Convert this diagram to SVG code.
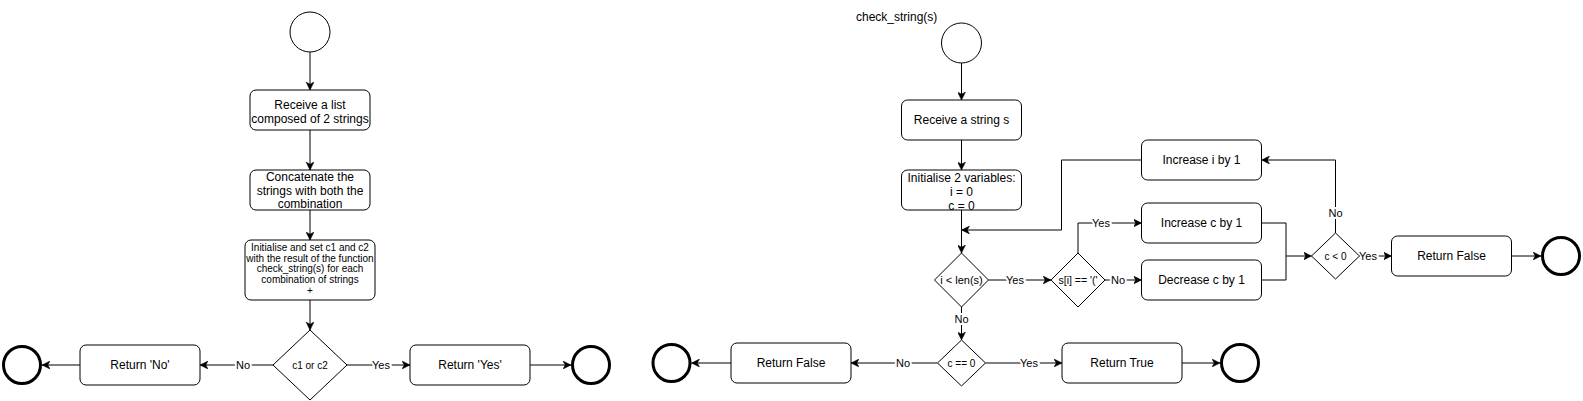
<svg xmlns="http://www.w3.org/2000/svg" width="1583" height="401" viewBox="0 0 1583 401">
<defs>
<style>
.box{fill:#fff;stroke:#000;stroke-width:1}
.st{fill:#fff;stroke:#000;stroke-width:1}
.en{fill:#fff;stroke:#000;stroke-width:3}
.t{font-family:"Liberation Sans",Arial,sans-serif;font-size:12px;fill:#000;text-anchor:middle}
.ts{font-family:"Liberation Sans",Arial,sans-serif;font-size:10px;fill:#000;text-anchor:middle}
.td{font-family:"Liberation Sans",Arial,sans-serif;font-size:11px;fill:#000;text-anchor:middle}
.lb{font-family:"Liberation Sans",Arial,sans-serif;font-size:11px;fill:#000;text-anchor:middle;stroke:#fff;stroke-width:4;paint-order:stroke}
.c{fill:none;stroke:#000;stroke-width:1;marker-end:url(#ah)}
.cn{fill:none;stroke:#000;stroke-width:1}
</style>
<marker id="ah" markerUnits="userSpaceOnUse" markerWidth="9" markerHeight="8" refX="8" refY="4" orient="auto">
<path d="M0,0 L8,4 L0,8 L2.2,4 Z" fill="#000" stroke="#000" stroke-width="0.5"/>
</marker>
</defs>

<g id="connectors">
<path class="c" d="M310,52 V90"/>
<path class="c" d="M310,130 V170"/>
<path class="c" d="M310,210 V240"/>
<path class="c" d="M310,300 V330"/>
<path class="c" d="M273,365 H200"/>
<path class="c" d="M347,365 H410"/>
<path class="c" d="M80,365 H42"/>
<path class="c" d="M530,365 H571"/>

<path class="c" d="M961.5,63 V100"/>
<path class="c" d="M961.5,140 V170"/>
<path class="c" d="M961.5,210 V253"/>
<path class="c" d="M1141.5,160 H1061.5 V230 H961.5"/>
<path class="c" d="M988.5,280 H1051"/>
<path class="c" d="M1078,253 V223 H1141.5"/>
<path class="c" d="M1105,280 H1141.5"/>
<path class="cn" d="M1261.5,223 H1286 V256"/>
<path class="c" d="M1261.5,280 H1286 V256 H1311.5"/>
<path class="c" d="M1335.5,233 V160 H1261.5"/>
<path class="c" d="M1359.5,256 H1391.5"/>
<path class="c" d="M1511.5,256 H1541"/>
<path class="c" d="M961.5,307 V340"/>
<path class="c" d="M937.5,363 H851"/>
<path class="c" d="M985.5,363 H1062"/>
<path class="c" d="M731,363 H691.5"/>
<path class="c" d="M1182,363 H1220"/>

<text class="lb" x="243" y="369">No</text>
<text class="lb" x="381" y="369">Yes</text>
<text class="lb" x="1015" y="284">Yes</text>
<text class="lb" x="1101" y="227">Yes</text>
<text class="lb" x="1118" y="284">No</text>
<text class="lb" x="1335.5" y="217">No</text>
<text class="lb" x="1368" y="260">Yes</text>
<text class="lb" x="961.5" y="323">No</text>
<text class="lb" x="903" y="367">No</text>
<text class="lb" x="1029" y="367">Yes</text>
</g>

<g id="start1"><circle class="st" cx="310" cy="32" r="20"/></g>
<g id="receive-list">
<rect class="box" x="250" y="90" width="120" height="40" rx="6"/>
<text class="t" x="310" y="108.5">Receive a list</text>
<text class="t" x="310" y="122.5">composed of 2 strings</text>
</g>
<g id="concatenate">
<rect class="box" x="250" y="170" width="120" height="40" rx="6"/>
<text class="t" x="310" y="181">Concatenate the</text>
<text class="t" x="310" y="194.5">strings with both the</text>
<text class="t" x="310" y="208">combination</text>
</g>
<g id="init-c1c2">
<rect class="box" x="245" y="240" width="130" height="60" rx="6"/>
<text class="ts" x="310" y="251">Initialise and set c1 and c2</text>
<text class="ts" x="310" y="261.5">with the result of the function</text>
<text class="ts" x="310" y="272">check_string(s) for each</text>
<text class="ts" x="310" y="282.5">combination of strings</text>
<text class="ts" x="310" y="294">+</text>
</g>
<g id="dec-c1c2">
<path class="box" d="M310,330 L347,365 L310,400 L273,365 Z"/>
<text class="ts" x="310" y="368.5">c1 or c2</text>
</g>
<g id="return-no">
<rect class="box" x="80" y="345" width="120" height="40" rx="6"/>
<text class="t" x="140" y="369">Return 'No'</text>
</g>
<g id="return-yes">
<rect class="box" x="410" y="345" width="120" height="40" rx="6"/>
<text class="t" x="470" y="369">Return 'Yes'</text>
</g>
<g id="end-no"><circle class="en" cx="22" cy="365" r="18.5"/></g>
<g id="end-yes"><circle class="en" cx="591" cy="365" r="18.5"/></g>

<g id="title"><text class="t" x="856" y="21" style="text-anchor:start">check_string(s)</text></g>
<g id="start2"><circle class="st" cx="961.5" cy="43" r="20"/></g>
<g id="receive-string">
<rect class="box" x="901.5" y="100" width="120" height="40" rx="6"/>
<text class="t" x="961.5" y="124">Receive a string s</text>
</g>
<g id="init-vars">
<rect class="box" x="901.5" y="170" width="120" height="40" rx="6"/>
<text class="t" x="961.5" y="181.5">Initialise 2 variables:</text>
<text class="t" x="961.5" y="195.5">i = 0</text>
<text class="t" x="961.5" y="209.5">c = 0</text>
</g>
<g id="dec-len">
<path class="box" d="M961.5,253 L988.5,280 L961.5,307 L934.5,280 Z"/>
<text class="td" x="961.5" y="284">i &lt; len(s)</text>
</g>
<g id="dec-paren">
<path class="box" d="M1078,253 L1105,280 L1078,307 L1051,280 Z"/>
<text class="td" x="1078" y="284" style="font-size:10.5px">s[i] == '('</text>
</g>
<g id="increase-i">
<rect class="box" x="1141.5" y="140" width="120" height="40" rx="6"/>
<text class="t" x="1201.5" y="164">Increase i by 1</text>
</g>
<g id="increase-c">
<rect class="box" x="1141.5" y="203" width="120" height="40" rx="6"/>
<text class="t" x="1201.5" y="227">Increase c by 1</text>
</g>
<g id="decrease-c">
<rect class="box" x="1141.5" y="260" width="120" height="40" rx="6"/>
<text class="t" x="1201.5" y="284">Decrease c by 1</text>
</g>
<g id="dec-neg">
<path class="box" d="M1335.5,233 L1359.5,256 L1335.5,279 L1311.5,256 Z"/>
<text class="ts" x="1335.5" y="259.5">c &lt; 0</text>
</g>
<g id="return-false-1">
<rect class="box" x="1391.5" y="236" width="120" height="40" rx="6"/>
<text class="t" x="1451.5" y="260">Return False</text>
</g>
<g id="end-false-1"><circle class="en" cx="1561" cy="256" r="18.5"/></g>
<g id="dec-zero">
<path class="box" d="M961.5,340 L985.5,363 L961.5,386 L937.5,363 Z"/>
<text class="ts" x="961.5" y="366.5">c == 0</text>
</g>
<g id="return-false-2">
<rect class="box" x="731" y="343" width="120" height="40" rx="6"/>
<text class="t" x="791" y="367">Return False</text>
</g>
<g id="return-true">
<rect class="box" x="1062" y="343" width="120" height="40" rx="6"/>
<text class="t" x="1122" y="367">Return True</text>
</g>
<g id="end-false-2"><circle class="en" cx="671.5" cy="363" r="18.5"/></g>
<g id="end-true"><circle class="en" cx="1240" cy="363" r="18.5"/></g>
</svg>
